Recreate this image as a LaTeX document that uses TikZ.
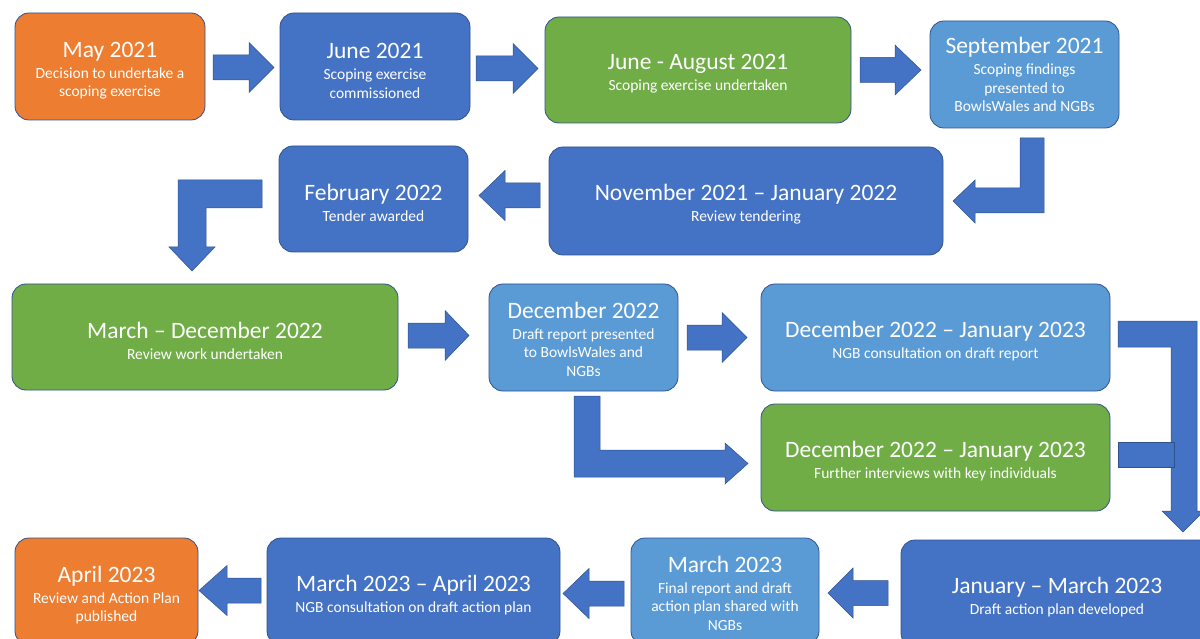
\documentclass[tikz,border=0pt]{standalone}
\usepackage{fontspec}
\setmainfont{Carlito}
\definecolor{accblue}{HTML}{4472C4}
\definecolor{accorange}{HTML}{ED7D31}
\definecolor{accgreen}{HTML}{70AD47}
\definecolor{acclight}{HTML}{5B9BD5}
\definecolor{edgeblue}{HTML}{2F528F}
\tikzset{
  stage/.style={draw=edgeblue, line width=0.8pt, rounded corners=14pt,
    text=white, align=center, inner sep=2pt,
    font=\fontsize{15.5}{18.6}\selectfont},
  bluebox/.style={stage, fill=accblue},
  orangebox/.style={stage, fill=accorange},
  greenbox/.style={stage, fill=accgreen},
  lightbox/.style={stage, fill=acclight},
  blockarrow/.style={fill=accblue, draw=edgeblue, line width=0.5pt}
}
\newcommand{\stagetitle}[2][23.5pt]{{\fontsize{23.5}{26}\selectfont\rule{0pt}{#1}#2}\\[2.5pt]}
% tail x, head base x, tip x, centre y
\newcommand{\blockarrow}[4]{%
  \filldraw[blockarrow] (#1,#4-12.5) -- (#2,#4-12.5) -- (#2,#4-25) -- (#3,#4)
    -- (#2,#4+25) -- (#2,#4+12.5) -- (#1,#4+12.5) -- cycle;}
\begin{document}
\begin{tikzpicture}[x=1pt,y=-1pt]
  \useasboundingbox (0,0) rectangle (1200,639);
  \clip (0,0) rectangle (1200,639);
  % first row
  \node[orangebox, minimum width=190pt, minimum height=107pt] (may21) at (110,66.5)
    {\stagetitle{May 2021}Decision to undertake a\\scoping exercise};
  \node[bluebox, minimum width=190pt, minimum height=107pt] (jun21) at (375,66.5)
    {\stagetitle{June 2021}Scoping exercise\\commissioned};
  \node[greenbox, minimum width=306pt, minimum height=106pt] (junaug21) at (698,70)
    {\stagetitle{June - August 2021}Scoping exercise undertaken};
  \node[lightbox, minimum width=189pt, minimum height=107pt] (sep21) at (1024.5,74.5)
    {\stagetitle[16.5pt]{September 2021}Scoping findings\\presented to\\BowlsWales and NGBs};
  \blockarrow{213}{249}{274}{67.5}
  \blockarrow{476}{513}{538}{68.5}
  \blockarrow{860}{895}{921}{70}
  % second row
  \node[bluebox, minimum width=394pt, minimum height=108pt] (nov21) at (746,201)
    {\stagetitle{November 2021 -- January 2022}Review tendering};
  \node[bluebox, minimum width=189pt, minimum height=106pt] (feb22) at (373.5,199)
    {\stagetitle{February 2022}Tender awarded};
  \filldraw[blockarrow] (1020,138) -- (1044,138) -- (1044,213) -- (975,213) -- (975,223)
    -- (953,201) -- (975,180) -- (975,188) -- (1020,188) -- cycle;
  \blockarrow{540}{505}{479}{195.5}
  \filldraw[blockarrow] (262,180) -- (262,208) -- (206,208) -- (206,247) -- (215,247)
    -- (192,271) -- (169,247) -- (178,247) -- (178,180) -- cycle;
  % third row
  \node[greenbox, minimum width=386pt, minimum height=106pt] (mardec22) at (205,337)
    {\stagetitle{March -- December 2022}Review work undertaken};
  \node[lightbox, minimum width=189pt, minimum height=107pt] (dec22) at (583.5,337.5)
    {\stagetitle[20pt]{December 2022}Draft report presented\\to BowlsWales and\\NGBs};
  \node[lightbox, minimum width=349pt, minimum height=107pt] (decjan23) at (935.5,337.5)
    {\stagetitle{December 2022 -- January 2023}NGB consultation on draft report};
  \node[greenbox, minimum width=349pt, minimum height=107pt] (interviews) at (935.5,457.5)
    {\stagetitle{December 2022 -- January 2023}Further interviews with key individuals};
  \blockarrow{408}{445}{469}{335.5}
  \blockarrow{687}{722}{747}{337.5}
  \filldraw[blockarrow] (574,396) -- (600,396) -- (600,450) -- (725,450) -- (725,443)
    -- (748,463.5) -- (725,484) -- (725,477) -- (574,477) -- cycle;
  \filldraw[blockarrow] (1118,321) -- (1197,321) -- (1197,511) -- (1204,511)
    -- (1183,532) -- (1162,511) -- (1171,511) -- (1171,347) -- (1118,347) -- cycle;
  \filldraw[blockarrow] (1118,442) rectangle (1174,467);
  % fourth row
  \node[bluebox, minimum width=312pt, minimum height=107pt] (janmar23) at (1057,593.5)
    {\stagetitle{January -- March 2023}Draft action plan developed};
  \node[lightbox, minimum width=188pt, minimum height=107pt] (mar23) at (725,591.5)
    {\stagetitle[20pt]{March 2023}Final report and draft\\action plan shared with\\NGBs};
  \node[bluebox, minimum width=293pt, minimum height=107pt] (marapr23) at (413.5,591.5)
    {\stagetitle{March 2023 -- April 2023}NGB consultation on draft action plan};
  \node[orangebox, minimum width=183pt, minimum height=107pt] (apr23) at (106.5,591.5)
    {\stagetitle{April 2023}Review and Action Plan\\published};
  \blockarrow{888}{853}{828}{593}
  \blockarrow{624}{589}{563}{593.5}
  \blockarrow{261}{227}{199}{590.5}
\end{tikzpicture}
\end{document}
